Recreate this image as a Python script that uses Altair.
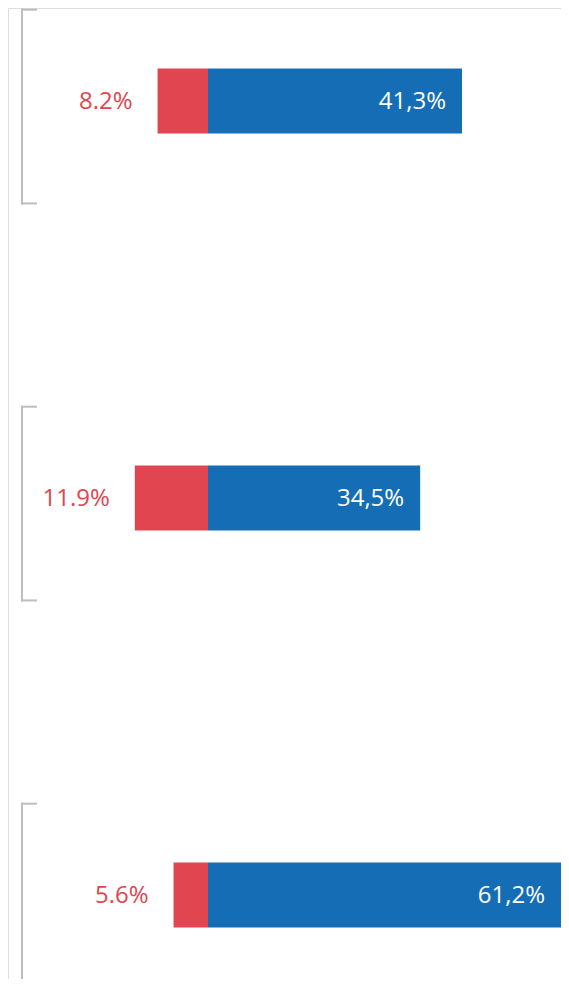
import altair as alt
import pandas as pd

groups = [0, 1, 2]
red_values = [8.2, 11.9, 5.6]
blue_values = [41.3, 34.5, 61.2]
red_labels = ["8.2%", "11.9%", "5.6%"]
blue_labels = ["41,3%", "34,5%", "61,2%"]

RED = "#e04550"
BLUE = "#146db5"
GRAY = "#bcbdc1"
FONT = "Open Sans"

W, H = 553, 971
PX_PER_UNIT = 6.15
ZERO_PX = 200
x_domain = [-ZERO_PX / PX_PER_UNIT, (W - ZERO_PX) / PX_PER_UNIT]
STEP = 397
FIRST = 93
y_domain = [-FIRST / STEP, (H - FIRST) / STEP]
HALF = 0.082

df = pd.DataFrame({
    "g": groups,
    "red": [-v for v in red_values],
    "blue": blue_values,
    "red_label": red_labels,
    "blue_label": blue_labels,
})
df["zero"] = 0.0
df["y0"] = df["g"] - HALF
df["y1"] = df["g"] + HALF
df["btop"] = df["g"] - 0.23
df["bbot"] = df["g"] + 0.258
# keep the label of a bar that runs past the edge inside the visible area
df["blue_lab_x"] = df["blue"].clip(upper=x_domain[1])

xs = alt.Scale(domain=x_domain, nice=False, zero=False)
ys = alt.Scale(domain=y_domain, nice=False, zero=False, reverse=True)
noax = None

base = alt.Chart(df)

red_bar = base.mark_rect(color=RED).encode(
    x=alt.X("red:Q", scale=xs, axis=noax), x2="zero:Q",
    y=alt.Y("y0:Q", scale=ys, axis=noax), y2="y1:Q")
blue_bar = base.mark_rect(color=BLUE).encode(
    x=alt.X("zero:Q", scale=xs, axis=noax), x2="blue:Q",
    y=alt.Y("y0:Q", scale=ys, axis=noax), y2="y1:Q")

red_text = base.mark_text(align="right", baseline="middle", dx=-25, dy=1,
                          font=FONT, fontSize=24, color=RED).encode(
    x=alt.X("red:Q", scale=xs, axis=noax),
    y=alt.Y("g:Q", scale=ys, axis=noax), text="red_label:N")
blue_text = base.mark_text(align="right", baseline="middle", dx=-16, dy=1,
                           font=FONT, fontSize=24, color="white").encode(
    x=alt.X("blue_lab_x:Q", scale=xs, axis=noax),
    y=alt.Y("g:Q", scale=ys, axis=noax), text="blue_label:N")

vline = base.mark_rule(color=GRAY, strokeWidth=2, strokeCap="square").encode(
    x=alt.value(14),
    y=alt.Y("btop:Q", scale=ys, axis=noax), y2="bbot:Q")
htop = base.mark_rule(color=GRAY, strokeWidth=2, strokeCap="square").encode(
    x=alt.value(14), x2=alt.value(28),
    y=alt.Y("btop:Q", scale=ys, axis=noax))
hbot = base.mark_rule(color=GRAY, strokeWidth=2, strokeCap="square").encode(
    x=alt.value(14), x2=alt.value(28),
    y=alt.Y("bbot:Q", scale=ys, axis=noax))

chart = alt.layer(vline, htop, hbot, red_bar, blue_bar, red_text, blue_text).properties(
    width=W, height=H, padding=0,
    autosize=alt.AutoSizeParams(type="none"),
).configure_view(stroke="transparent", strokeWidth=0).configure(background="white")

chart.save("out.html", embed_options={"renderer": "svg", "actions": False})
